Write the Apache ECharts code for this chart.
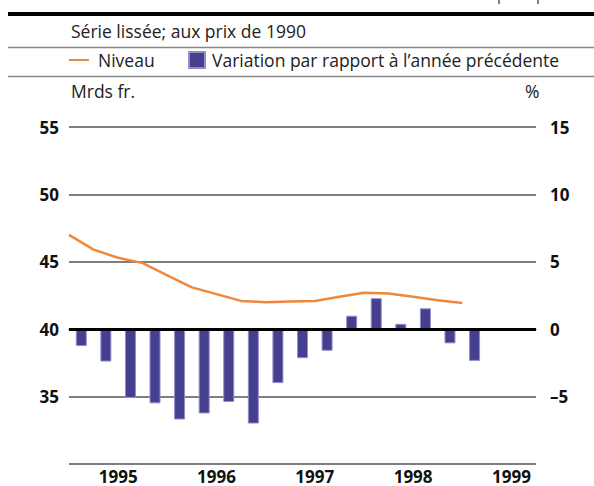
<!DOCTYPE html>
<html>
<head>
<meta charset="utf-8">
<script src="https://cdn.jsdelivr.net/npm/echarts@6/dist/echarts.min.js"></script>
<style>
html, body { margin: 0; padding: 0; background: #fff; }
#chart { width: 594px; height: 486px; }
</style>
</head>
<body>
<div id="chart"></div>
<script>
// quarters 1995 Q1 .. 1999 Q3
var quarters = ['95Q1','95Q2','95Q3','95Q4','96Q1','96Q2','96Q3','96Q4',
	'97Q1','97Q2','97Q3','97Q4','98Q1','98Q2','98Q3','98Q4','99Q1','99Q2','99Q3'];
// year labels placed on quarter boundaries (0..19), centred in each year
var yearLabels = ['', '', '1995', '', '', '', '1996', '', '', '', '1997', '', '', '', '1998', '', '', '', '1999', ''];
// level, Mrds fr. (left axis), one value per quarter boundary
var niveau = [47.0, 45.9, 45.3, 44.9, 44.0, 43.1, 42.6, 42.1, 42.0, 42.05, 42.1, 42.4, 42.7, 42.65, 42.4, 42.15, 41.95];
// change vs previous year, % (right axis)
var variation = [-1.25, -2.4, -5.1, -5.5, -6.7, -6.25, -5.4, -7.0, -4.0, -2.15, -1.6, 1.0, 2.3, 0.4, 1.55, -1.05, -2.35];

var font = '"Open Sans", sans-serif';
var chart = echarts.init(document.getElementById('chart'), null, { renderer: 'svg' });

var option = {
	animation: false,
	textStyle: { fontFamily: font },
	title: [{
		text: 'Série lissée; aux prix de 1990',
		left: 66, top: 17,
		textStyle: { fontSize: 17.5, fontWeight: 'normal', color: '#222', fontFamily: font }
	}, {
		text: 'Mrds fr.',
		left: 66, top: 77,
		textStyle: { fontSize: 17.5, fontWeight: 'normal', color: '#222', fontFamily: font }
	}, {
		text: '%',
		left: 520, top: 77,
		textStyle: { fontSize: 17.5, fontWeight: 'normal', color: '#222', fontFamily: font }
	}],
	legend: [{
		data: [{ name: 'Niveau', icon: 'rect' }],
		left: 64, top: 46,
		itemWidth: 20, itemHeight: 2,
		selectedMode: false,
		textStyle: { fontSize: 17.5, color: '#222', fontFamily: font, padding: [0, 0, 0, 4] }
	}, {
		data: [{ name: 'Variation par rapport à l’année précédente', icon: 'rect' }],
		left: 183, top: 46,
		itemWidth: 16, itemHeight: 16,
		selectedMode: false,
		textStyle: { fontSize: 17.5, color: '#222', fontFamily: font, padding: [0, 0, 0, 2] }
	}],
	graphic: [
		{ type: 'rect', shape: { x: 8, y: 12, width: 586, height: 4 }, style: { fill: '#000' } },
		{ type: 'line', shape: { x1: 499, y1: 0, x2: 499, y2: 4 }, style: { stroke: '#000', lineWidth: 1 } },
		{ type: 'line', shape: { x1: 538, y1: 0, x2: 538, y2: 4 }, style: { stroke: '#000', lineWidth: 1 } },
		{ type: 'line', shape: { x1: 8, y1: 47.5, x2: 594, y2: 47.5 }, style: { stroke: '#888', lineWidth: 1.5 } },
		{ type: 'line', shape: { x1: 8, y1: 76.5, x2: 594, y2: 76.5 }, style: { stroke: '#888', lineWidth: 1.5 } }
	],
	grid: { left: 69, right: 58, top: 127, bottom: 22 },
	xAxis: [{
		type: 'category',
		data: quarters,
		boundaryGap: true,
		axisLine: { lineStyle: { color: '#000', width: 1 } },
		axisTick: {
			inside: true, length: 6,
			lineStyle: { color: '#000' },
			interval: function (idx) { return idx > 0 && idx % 4 === 0; }
		},
		axisLabel: { show: false },
		splitLine: { show: false }
	}, {
		type: 'category',
		data: yearLabels,
		boundaryGap: false,
		position: 'bottom',
		axisLine: { show: false },
		axisTick: { show: false },
		axisLabel: {
			interval: 0, margin: 4, lineHeight: 16,
			fontSize: 17, fontWeight: 'bold', color: '#111', fontFamily: font
		},
		splitLine: { show: false }
	}],
	yAxis: [{
		type: 'value',
		min: 30, max: 55, interval: 5,
		axisLine: { show: false },
		axisTick: { show: false },
		axisLabel: {
			margin: 10, fontSize: 17, fontWeight: 'bold', color: '#111', fontFamily: font,
			formatter: function (v) { return v === 30 ? '' : String(v); }
		},
		splitLine: { lineStyle: { color: '#555', width: 1.5 } }
	}, {
		type: 'value',
		min: -10, max: 15, interval: 5,
		axisLine: { show: false },
		axisTick: { show: false },
		axisLabel: {
			margin: 14, fontSize: 17, fontWeight: 'bold', color: '#111', fontFamily: font,
			formatter: function (v) { return v === -10 ? '' : (v < 0 ? '–' + Math.abs(v) : String(v)); }
		},
		splitLine: { show: false }
	}],
	series: [{
		name: 'Variation par rapport à l’année précédente',
		type: 'bar',
		xAxisIndex: 0,
		yAxisIndex: 1,
		data: variation,
		barWidth: 11,
		itemStyle: { color: '#463f90', borderColor: '#928ec8', borderWidth: 1 },
		markLine: {
			silent: true,
			symbol: 'none',
			label: { show: false },
			lineStyle: { color: '#000', width: 3, type: 'solid' },
			data: [{ yAxis: 0 }]
		},
		z: 3
	}, {
		name: 'Niveau',
		type: 'line',
		xAxisIndex: 1,
		yAxisIndex: 0,
		data: niveau,
		showSymbol: false,
		symbol: 'none',
		lineStyle: { color: '#f0883c', width: 2.5 },
		itemStyle: { color: '#f0883c' },
		z: 4
	}]
};

chart.setOption(option);
</script>
</body>
</html>
